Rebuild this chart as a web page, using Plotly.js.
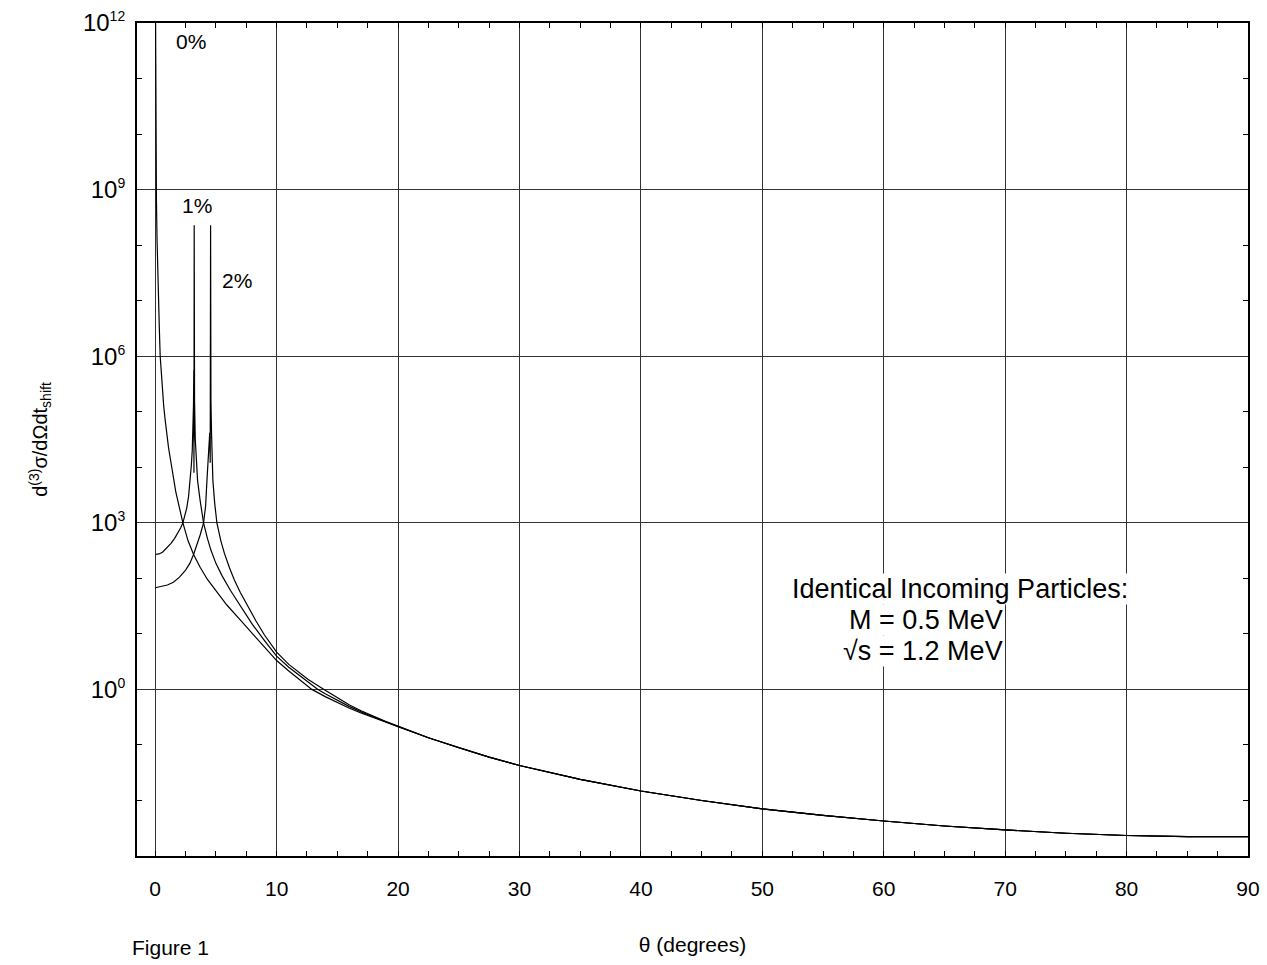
<!DOCTYPE html>
<html>
<head>
<meta charset="utf-8">
<script src="https://cdn.plot.ly/plotly-3.0.1.min.js"></script>
<style>html,body{margin:0;padding:0;background:#fff;}#chart{width:1267px;height:965px;}</style>
</head>
<body>
<div id="chart"></div>
<script>
// ---- data (theta in degrees, cross-section values) ----
// shared tail, where the three curves coincide
var thetaTail = [22.5, 25, 27.5, 30, 35, 40, 45, 50, 55, 60, 65, 70, 75, 80, 85, 90];
var sigmaTail = [0.135, 0.0891, 0.0603, 0.0427, 0.024, 0.0148, 0.01, 0.00708, 0.00537, 0.00427, 0.00347, 0.00295, 0.00257, 0.00234, 0.00224, 0.00224];

// 0% curve
var theta0 = [0.01, 0.04, 0.07, 0.1, 0.15, 0.2, 0.27, 0.34, 0.41, 0.5, 0.6, 0.7, 0.82, 0.95, 1.1, 1.25, 1.37, 1.55, 1.7, 2.0, 2.28, 2.7, 3.16, 3.7, 4.3, 5.0, 5.9, 7.0, 8.1, 9.06, 10, 11, 11.95, 12.9, 14, 15, 16, 17, 18, 19, 20];
var sigma0 = [1e13, 2.0e10, 2.51e9, 6.31e8, 1.26e8, 3.16e7, 1e7, 3.16e6, 1e6, 5.01e5, 2.24e5, 1.26e5, 7.08e4, 3.98e4, 2.24e4, 1.41e4, 9.12e3, 5.62e3, 3.55e3, 1.78e3, 1e3, 479, 269, 158, 95.5, 60.3, 33.1, 17.8, 9.55, 5.50, 3.31, 2.14, 1.48, 1.0, 0.741, 0.575, 0.457, 0.372, 0.309, 0.257, 0.214];

// 1% curve
var theta1 = [0, 0.3, 0.6, 0.96, 1.3, 1.6, 1.9, 2.1, 2.28, 2.45, 2.6, 2.75, 2.88, 2.98, 3.05, 3.1, 3.15, 3.18, 3.19, 3.21, 3.24, 3.3, 3.38, 3.49, 3.7, 3.98, 4.3, 4.6, 5.0, 5.5, 6.2, 7.0, 8.0, 9.0, 9.5, 10, 11, 12.3, 13.4, 14, 15, 16, 17, 18, 19, 20];
var sigma1 = [269, 275, 295, 355, 427, 525, 676, 813, 1000, 1318, 1862, 3020, 5754, 1.12e4, 2.0e4, 3.98e4, 1.26e5, 5.62e5, 7.94e3, 2.29e8, 1.58e5, 3.16e4, 1.26e4, 5754, 2512, 1000, 525, 316, 186, 112, 60.3, 31.6, 14.8, 7.59, 5.50, 3.98, 2.51, 1.51, 1.0, 0.832, 0.631, 0.490, 0.389, 0.316, 0.257, 0.214];

// 2% curve
var theta2 = [0, 0.5, 1.0, 1.5, 2.0, 2.5, 2.85, 3.16, 3.45, 3.7, 3.98, 4.15, 4.26, 4.38, 4.45, 4.49, 4.53, 4.56, 4.59, 4.64, 4.7, 4.75, 4.9, 5.08, 5.4, 5.7, 6.1, 6.5, 7.0, 7.6, 8.3, 9.0, 9.7, 10, 11, 12.6, 13.9, 15, 16, 17, 18, 19, 20];
var sigma2 = [67.6, 70.8, 75.9, 85.1, 105, 141, 186, 269, 398, 603, 1000, 1995, 5754, 1.58e4, 3.16e4, 4.17e4, 1.2e4, 2.29e8, 1.58e5, 3.98e4, 1.26e4, 5754, 2239, 1000, 479, 282, 158, 95.5, 56.2, 31.6, 17.0, 9.55, 5.75, 4.68, 2.82, 1.51, 1.0, 0.724, 0.525, 0.407, 0.324, 0.263, 0.219];

var xTicks = [0, 10, 20, 30, 40, 50, 60, 70, 80, 90];
var yTicks = [1, 1e3, 1e6, 1e9, 1e12];
var yExponents = ['0', '3', '6', '9', '12'];
var yMinor = [1e-2, 1e-1, 1e1, 1e2, 1e4, 1e5, 1e7, 1e8, 1e10, 1e11];
var curveNames = ['0%', '1%', '2%'];

var line = {color: '#000', width: 1.2};
var traces = [
  {x: theta0.concat(thetaTail), y: sigma0.concat(sigmaTail), name: curveNames[0]},
  {x: theta1.concat(thetaTail), y: sigma1.concat(sigmaTail), name: curveNames[1]},
  {x: theta2.concat(thetaTail), y: sigma2.concat(sigmaTail), name: curveNames[2]}
].map(function (t) {
  return {x: t.x, y: t.y, name: t.name, type: 'scatter', mode: 'lines', line: line, hoverinfo: 'skip'};
});

var sans = 'Liberation Sans, Arial, Helvetica, sans-serif';
var narrow = 'Liberation Sans Narrow, Liberation Sans, Arial, sans-serif';

var layout = {
  width: 1267, height: 965,
  margin: {l: 137, r: 19, t: 23, b: 109},
  paper_bgcolor: '#fff', plot_bgcolor: '#fff',
  showlegend: false,
  font: {family: sans, color: '#000'},
  xaxis: {
    range: [-1.5, 90],
    tickmode: 'array', tickvals: xTicks, ticktext: xTicks.map(String),
    ticks: '', showgrid: true, gridcolor: '#333', gridwidth: 1,
    zeroline: false, showline: true, linecolor: '#000', linewidth: 2, mirror: 'allticks',
    minor: {dtick: 2.5, tick0: 0, ticks: 'inside', ticklen: 5, tickcolor: '#000', tickwidth: 1, showgrid: false},
    tickfont: {family: narrow, size: 21, color: '#000'},
    ticklabelstandoff: 13,
    title: {text: 'θ (degrees)', font: {family: narrow, size: 21, color: '#000'}, standoff: 38}
  },
  yaxis: {
    type: 'log', range: [-3, 12],
    tickmode: 'array', tickvals: yTicks,
    ticktext: yExponents.map(function (e) { return '10<sup><span style="font-size:14px">' + e + '</span></sup>'; }),
    ticks: '', showgrid: true, gridcolor: '#333', gridwidth: 1,
    zeroline: false, showline: true, linecolor: '#000', linewidth: 2, mirror: 'allticks',
    minor: {tickmode: 'array', tickvals: yMinor, ticks: 'inside', ticklen: 5, tickcolor: '#000', tickwidth: 1, showgrid: false},
    tickfont: {family: sans, size: 24, color: '#000'},
    ticklabelstandoff: 5,
    title: {text: 'd<sup>(3)</sup>σ/dΩdt<sub>shift</sub>', font: {family: sans, size: 20, color: '#000'}, standoff: 30}
  },
  annotations: [
    {xref: 'x', yref: 'y', x: 2.93, y: 11.67, text: curveNames[0], showarrow: false, font: {size: 21}},
    {xref: 'x', yref: 'y', x: 3.46, y: 8.72, text: curveNames[1], showarrow: false, font: {size: 21}, bgcolor: '#fff', borderpad: 2},
    {xref: 'x', yref: 'y', x: 6.76, y: 7.36, text: curveNames[2], showarrow: false, font: {size: 21}},
    {xref: 'x', yref: 'y', x: 66.27, y: 1.817, text: 'Identical Incoming Particles:', showarrow: false, font: {size: 27}, bgcolor: '#fff', borderpad: 0},
    {xref: 'x', yref: 'y', x: 69.9, y: 1.241, xanchor: 'right', text: 'M = 0.5 MeV', showarrow: false, font: {size: 27}, bgcolor: '#fff', borderpad: 0},
    {xref: 'x', yref: 'y', x: 69.9, y: 0.683, xanchor: 'right', text: '√s = 1.2 MeV', showarrow: false, font: {size: 27}, bgcolor: '#fff', borderpad: 0},
    {xref: 'paper', yref: 'paper', x: -0.0063, y: -0.1104, xanchor: 'left', yanchor: 'middle', text: 'Figure 1', showarrow: false, font: {family: narrow, size: 21}}
  ]
};

Plotly.newPlot('chart', traces, layout, {displayModeBar: false, staticPlot: true});
</script>
</body>
</html>
